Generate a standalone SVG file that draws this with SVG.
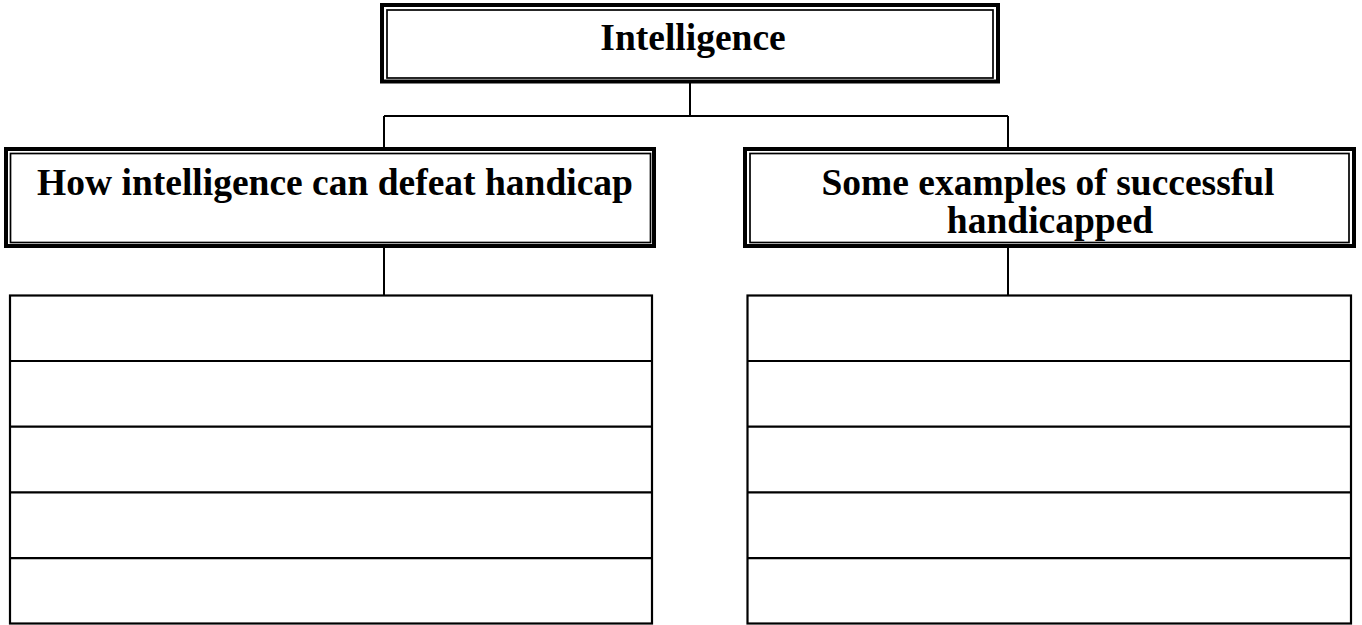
<svg xmlns="http://www.w3.org/2000/svg" width="1362" height="625" viewBox="0 0 1362 625">
<style>
.outer{fill:none;stroke:#000;stroke-width:4}
.inner{fill:none;stroke:#000;stroke-width:1.7}
.cell{fill:none;stroke:#000;stroke-width:2.2}
.conn{fill:none;stroke:#000;stroke-width:2}
.t{font-family:"Liberation Serif","Times New Roman",serif;font-weight:bold;font-size:37.5px;fill:#000;text-anchor:middle}
</style>
<rect width="1362" height="625" fill="#fff"/>
<g id="connectors">
<path class="conn" d="M690 83 V116 M384 116 H1008 M384 116 V147 M1008 116 V147"/>
<path class="conn" d="M384 248 V295 M1008 248 V295"/>
</g>
<g id="node-intelligence">
<rect class="outer" x="382" y="5" width="616" height="76.5"/>
<rect class="inner" x="387" y="10" width="606" height="68"/>
<text class="t" x="693" y="50">Intelligence</text>
</g>
<g id="node-how">
<rect class="outer" x="6" y="149" width="648" height="97"/>
<rect class="inner" x="10.5" y="153.5" width="640" height="89"/>
<text class="t" x="335" y="195">How intelligence can defeat handicap</text>
</g>
<g id="node-examples">
<rect class="outer" x="745" y="149" width="609" height="97"/>
<rect class="inner" x="750" y="153.5" width="599" height="89"/>
<text class="t" x="1048" y="195">Some examples of successful</text>
<text class="t" x="1050" y="233">handicapped</text>
</g>
<g id="table-left">
<rect class="cell" x="10" y="295.5" width="642" height="328"/>
<path class="cell" d="M10 361 H652 M10 426.7 H652 M10 492.3 H652 M10 558.2 H652"/>
</g>
<g id="table-right">
<rect class="cell" x="747.5" y="295.5" width="603.5" height="328"/>
<path class="cell" d="M747.5 361 H1351 M747.5 426.7 H1351 M747.5 492.3 H1351 M747.5 558.2 H1351"/>
</g>
</svg>
